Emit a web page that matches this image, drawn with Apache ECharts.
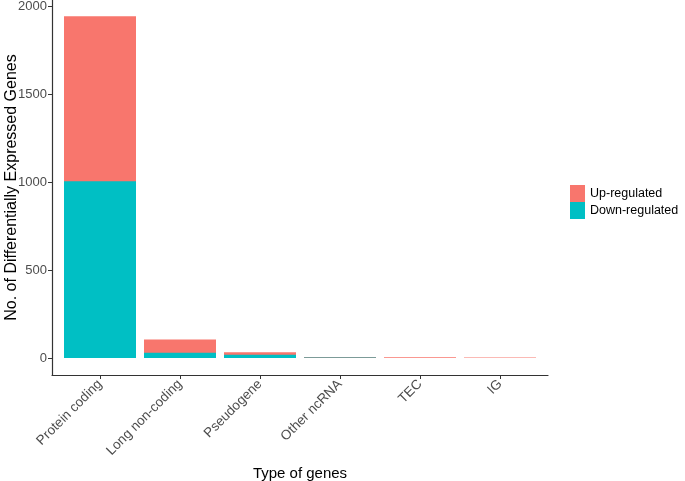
<!DOCTYPE html>
<html><head><meta charset="utf-8">
<script src="https://cdn.jsdelivr.net/npm/echarts@6/dist/echarts.min.js"></script>
<style>html,body{margin:0;padding:0;background:#fff}#c{width:685px;height:481px}</style>
</head><body><div id="c"></div>
<script>
const categories = ["Protein coding", "Long non-coding", "Pseudogene", "Other ncRNA", "TEC", "IG"];
const upRegulated = [940, 75, 15, 3, 4, 2];
const downRegulated = [1005, 30, 18, 3, 0, 0];
const yTicks = [0, 500, 1000, 1500, 2000];

const positions = categories.map((c, i) => i + 1);
const totals = upRegulated.map((v, i) => v + downRegulated[i]);
const chart = echarts.init(document.getElementById('c'), null, {renderer: 'canvas'});
const font = 'Liberation Sans, Arial, sans-serif';
chart.setOption({
  animation: false,
  textStyle: {fontFamily: font},
  grid: {left: 52, right: 137, top: 0, bottom: 106, containLabel: false, outerBoundsMode: 'none'},
  legend: {
    orient: 'vertical', left: 565, top: 180, itemWidth: 15, itemHeight: 17, itemGap: 0,
    icon: 'rect', data: ['Up-regulated', 'Down-regulated'],
    textStyle: {fontSize: 12.5, color: '#000', fontFamily: font}
  },
  xAxis: {
    type: 'value', min: 0.4, max: 6.6,
    name: 'Type of genes', nameLocation: 'middle', nameGap: 91, nameMoveOverlap: false,
    nameTextStyle: {fontSize: 15, color: '#000', fontFamily: font},
    axisLine: {show: true, onZero: false, lineStyle: {color: '#333', width: 1.2}},
    axisTick: {show: true, customValues: positions, length: 4, lineStyle: {color: '#333'}},
    axisLabel: {customValues: positions, rotate: 45, margin: 7, fontSize: 13.5, color: '#4d4d4d', fontFamily: font,
      formatter: v => categories[Math.round(v) - 1] || ''},
    splitLine: {show: false}
  },
  yAxis: {
    type: 'value', min: -97, max: 2037,
    name: 'No. of Differentially Expressed Genes', nameLocation: 'middle', nameGap: 32, nameMoveOverlap: false,
    nameTextStyle: {fontSize: 16, color: '#000', fontFamily: font},
    axisLine: {show: true, onZero: false, lineStyle: {color: '#333', width: 1.2}},
    axisTick: {show: true, customValues: yTicks, length: 4, lineStyle: {color: '#333'}},
    axisLabel: {customValues: yTicks, fontSize: 13, color: '#4d4d4d', margin: 5, fontFamily: font,
      formatter: v => String(v)},
    splitLine: {show: false}
  },
  series: [
    {name: 'Up-regulated', type: 'bar', barWidth: 72, barGap: '-100%', itemStyle: {color: '#F8766D'},
      data: totals.map((v, i) => [positions[i], v])},
    {name: 'Down-regulated', type: 'bar', barWidth: 72, barGap: '-100%', itemStyle: {color: '#00BFC4'},
      data: downRegulated.map((v, i) => [positions[i], v])}
  ]
});
</script></body></html>
